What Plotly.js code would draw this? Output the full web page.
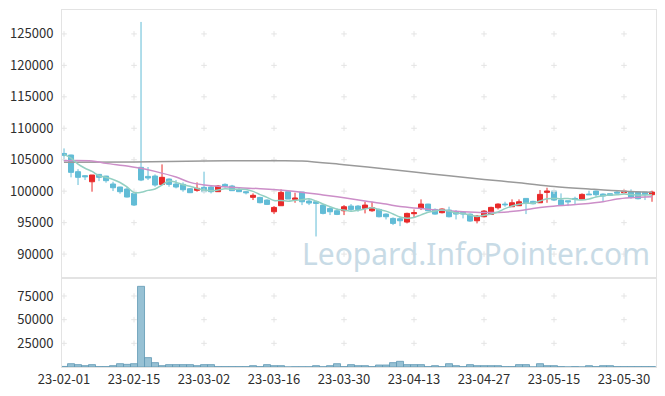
<!DOCTYPE html>
<html><head><meta charset="utf-8">
<script src="https://cdn.plot.ly/plotly-3.0.1.min.js"></script>
<style>html,body{margin:0;padding:0;background:#fff}#chart{width:665px;height:396px}</style>
</head><body><div id="chart"></div>
<script>
const dates = ["2023-02-01","2023-02-02","2023-02-03","2023-02-06","2023-02-07","2023-02-08","2023-02-09","2023-02-10","2023-02-13","2023-02-14",
"2023-02-15","2023-02-16","2023-02-17","2023-02-20","2023-02-21","2023-02-22","2023-02-23","2023-02-24","2023-02-27","2023-02-28",
"2023-03-02","2023-03-03","2023-03-06","2023-03-07","2023-03-08","2023-03-09","2023-03-10","2023-03-13","2023-03-14","2023-03-15",
"2023-03-16","2023-03-17","2023-03-20","2023-03-21","2023-03-22","2023-03-23","2023-03-24","2023-03-27","2023-03-28","2023-03-29",
"2023-03-30","2023-03-31","2023-04-03","2023-04-04","2023-04-05","2023-04-06","2023-04-07","2023-04-10","2023-04-11","2023-04-12",
"2023-04-13","2023-04-14","2023-04-17","2023-04-18","2023-04-19","2023-04-20","2023-04-21","2023-04-24","2023-04-25","2023-04-26",
"2023-04-27","2023-04-28","2023-05-02","2023-05-03","2023-05-04","2023-05-08","2023-05-09","2023-05-10","2023-05-11","2023-05-12",
"2023-05-15","2023-05-16","2023-05-17","2023-05-18","2023-05-19","2023-05-22","2023-05-23","2023-05-24","2023-05-25","2023-05-26",
"2023-05-30","2023-05-31","2023-06-01","2023-06-02","2023-06-05"];

const opens = [106000,105750,103100,102460,101500,102670,102400,101140,100660,100340,
99650,103790,102350,102410,101080,101930,101140,101080,100390,100130,
100610,100660,99920,101080,100820,100230,99920,99020,99010,98590,
96730,97690,99920,98700,99860,98430,98320,97790,97260,96890,
96890,97630,97630,97260,96890,97100,96360,95670,95620,95090,
96420,97260,97950,97100,96580,97000,96730,96630,96360,95300,
95940,96310,97370,97950,97530,97690,98850,98380,98160,99810,
100020,98590,98480,98850,98750,99540,100020,99540,99600,99860,
99760,99860,99860,99860,99440];

const highs = [106800,105800,103500,102570,102570,102700,102450,101500,100700,100660,
99800,126900,103840,102670,104260,102040,101770,101400,100500,101400,
103100,100980,100980,101240,101000,100550,100020,99650,99100,98700,
97630,100290,99920,99760,99860,98850,98320,97900,97530,97260,
97790,97950,97790,98320,98320,97260,96470,95830,95940,96580,
97100,98700,98000,97260,97260,97530,97000,96730,96470,96200,
97000,97530,98060,98320,98700,98700,98850,98480,100180,100550,
100020,99650,98480,99120,99650,100080,100080,99650,99600,100020,
100290,100290,99860,99860,100080];

const lows = [104800,102200,100980,101770,99920,101600,101350,100020,99600,99000,
97640,101600,101770,100710,100980,100710,100450,99920,99700,99920,
99810,99650,99920,100550,100080,99920,99490,98590,98060,97800,
96360,97690,98750,98160,97790,97790,92800,96310,96200,96200,
96200,96730,96730,96470,96730,95830,95510,94610,94450,94880,
95830,97000,96890,96260,96470,95830,95510,95670,95140,94880,
95830,96310,97100,97530,97530,97690,96360,97900,98160,98160,
98430,97840,97630,97900,98750,99440,99120,98320,99230,99700,
99540,98800,98700,98590,98320];

const closes = [105700,102990,102200,102300,102570,102200,101670,100550,99920,99070,
97800,101770,102090,100980,102200,101080,100660,100230,99760,100450,
99920,99920,100820,100760,100080,99920,99760,99340,98170,97900,
97420,99810,98750,98910,98320,98110,98060,96470,96730,96310,
97530,97100,97100,97790,97370,95940,95940,94880,95300,96470,
96580,97950,96890,96360,97160,95940,96360,96360,95250,96040,
96840,97420,97950,97850,98160,98320,98160,98000,99490,100020,
98590,97840,98320,98700,99490,99440,99440,99230,99330,99700,
100020,99020,98800,99440,99860];

const volumes = [600,3500,2500,1400,2500,400,400,1400,3500,2800,
3500,85200,9900,4600,1400,2500,2500,2500,2500,1400,
2500,2500,400,400,400,400,400,1400,400,2500,
1400,1400,100,300,300,300,1400,300,1400,3500,
400,2500,1400,1400,400,2100,2100,4600,6000,2500,
2500,2500,400,1400,400,3500,1400,400,2500,1400,
1400,1400,1400,400,400,2500,2500,100,3500,1400,
1400,400,100,400,100,1400,400,1400,1400,400,
400,400,400,400,400];

const ma5 = [105850,105250,104300,103650,103150,102450,102190,101860,101380,100680,
99800,99820,100130,100340,100970,101620,101400,101030,100790,100440,
100200,100060,100170,100370,100300,100300,100270,99970,99450,99020,
98520,98530,98410,98560,98640,98780,98430,97970,97540,97140,
97020,96830,96950,97170,97380,97060,96830,96380,95890,95710,
95830,96240,96640,96850,96990,96860,96540,96440,96210,95990,
96170,96380,96700,97220,97640,97940,98090,98100,98430,98800,
98850,98790,98850,98690,98590,98760,99080,99260,99390,99430,
99540,99460,99370,99400,99430];

const ma20Idx = [0,4,6,9,11,13,16,18,21,23,25,28,32,37,40,43,46,48,51,54,57,60,62,65,67,69,72,74,77,79,81,84];
const ma20Val = [104850,104800,104420,104000,103630,103150,102250,101400,100850,100710,100550,100400,100080,99400,98950,98450,97950,97550,97250,96950,96750,96630,96630,96890,97260,97530,97790,97950,98320,98750,98960,99120];

const ma60Idx = [0,10,20,30,34,40,45,50,55,60,65,70,75,80,84];
const ma60Val = [104600,104650,104800,104850,104800,104200,103650,103050,102450,101850,101350,100750,100350,100000,99850];

const xTickDates = ["2023-02-01","2023-02-15","2023-03-02","2023-03-16","2023-03-30","2023-04-13","2023-04-27","2023-05-15","2023-05-30"];
const xTickLabels = ["23-02-01","23-02-15","23-03-02","23-03-16","23-03-30","23-04-13","23-04-27","23-05-15","23-05-30"];
const priceTicks = [90000,95000,100000,105000,110000,115000,120000,125000];
const volTicks = [25000,50000,75000];

const BLUE = "#62bcd6", RED = "#e82a2a";
const FONT = "Noto Sans CJK KR, Noto Sans, sans-serif";

function crosses(xs, ys, xa, ya) {
  const cx = [], cy = [];
  xs.forEach(x => ys.forEach(y => { cx.push(x); cy.push(y); }));
  return {type:"scatter", mode:"markers", x:cx, y:cy, xaxis:xa, yaxis:ya, hoverinfo:"skip",
    marker:{symbol:"cross-thin", size:4, line:{color:"#e4e4e4", width:1}}, showlegend:false};
}

const traces = [
  crosses(xTickDates, priceTicks, "x", "y"),
  crosses(xTickDates, volTicks, "x2", "y2"),
  {type:"candlestick", x:dates, open:opens, high:highs, low:lows, close:closes, xaxis:"x", yaxis:"y",
   increasing:{line:{color:RED, width:1}, fillcolor:RED},
   decreasing:{line:{color:BLUE, width:1}, fillcolor:BLUE},
   whiskerwidth:0, showlegend:false, hoverinfo:"skip"},
  {type:"scatter", mode:"lines", x:ma60Idx.map(i=>dates[i]), y:ma60Val, xaxis:"x", yaxis:"y",
   line:{color:"#9a9a9a", width:1.5, shape:"spline"}, showlegend:false, hoverinfo:"skip"},
  {type:"scatter", mode:"lines", x:ma20Idx.map(i=>dates[i]), y:ma20Val, xaxis:"x", yaxis:"y",
   line:{color:"#cc8ec8", width:1.5, shape:"spline"}, showlegend:false, hoverinfo:"skip"},
  {type:"scatter", mode:"lines", x:dates, y:ma5, xaxis:"x", yaxis:"y",
   line:{color:"#93d0c2", width:1.5, shape:"spline"}, showlegend:false, hoverinfo:"skip"},
  {type:"bar", x:dates, y:volumes, xaxis:"x2", yaxis:"y2",
   marker:{color:"rgba(140,186,207,0.9)", line:{color:"#5f98b4", width:0.8}}, showlegend:false, hoverinfo:"skip"}
];

const xRange = [-0.29, 84.57];
const axisCommon = {showline:true, mirror:true, linecolor:"#e3e3e3", linewidth:1, showgrid:false, zeroline:false};
const layout = {
  width:665, height:396,
  margin:{l:62, r:9, t:10, b:29},
  paper_bgcolor:"#fff", plot_bgcolor:"#fff",
  font:{family:FONT, size:13, color:"#2e2e2e"},
  bargap:0, boxgap:0.28, boxgroupgap:0, showlegend:false, hovermode:false,
  xaxis:Object.assign({}, axisCommon, {type:"category", domain:[0,1], anchor:"y", range:xRange,
    showticklabels:false, ticks:"", rangeslider:{visible:false}, categoryorder:"array", categoryarray:dates}),
  xaxis2:Object.assign({}, axisCommon, {type:"category", domain:[0,1], anchor:"y2", range:xRange, matches:"x",
    tickmode:"array", tickvals:xTickDates, ticktext:xTickLabels, ticks:"",
    categoryorder:"array", categoryarray:dates, tickangle:0}),
  yaxis:Object.assign({}, axisCommon, {domain:[0.2493,1], anchor:"x", range:[86200,128800],
    tickmode:"array", tickvals:priceTicks, tickformat:"d", ticks:"outside", ticklen:5, tickcolor:"rgba(0,0,0,0)"}),
  yaxis2:Object.assign({}, axisCommon, {domain:[0,0.2493], anchor:"x2", range:[0,94000],
    tickmode:"array", tickvals:volTicks, tickformat:"d", ticks:"outside", ticklen:5, tickcolor:"rgba(0,0,0,0)"}),
  annotations:[{text:"Leopard.InfoPointer.com", xref:"paper", yref:"paper", x:0.697, y:0.319,
    xanchor:"center", yanchor:"middle", showarrow:false,
    font:{family:"Noto Sans, sans-serif", size:30, color:"#c8dbe6"}}]
};

Plotly.newPlot("chart", traces, layout, {displayModeBar:false, staticPlot:true});
</script>
</body></html>
